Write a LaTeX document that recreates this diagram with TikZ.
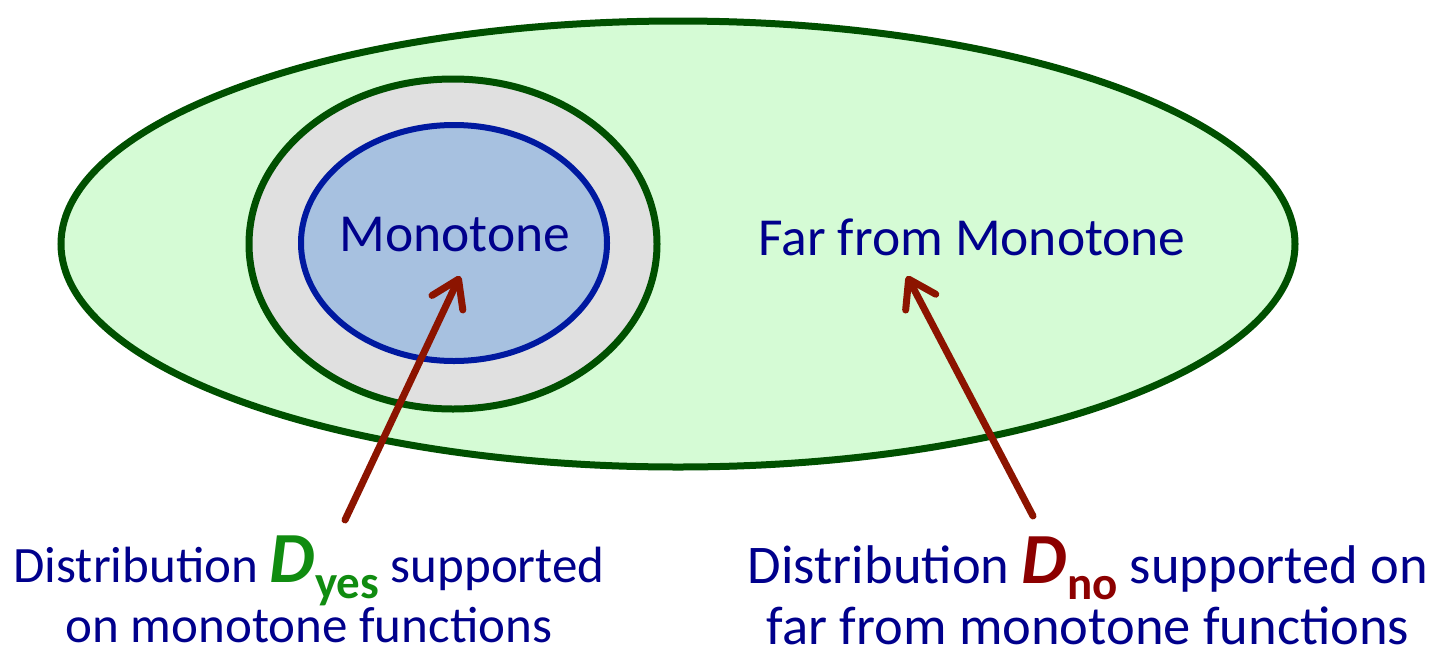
\documentclass[tikz,border=0pt]{standalone}
\usepackage{fontspec}
\setmainfont{Carlito}
\usetikzlibrary{arrows.meta}
\definecolor{txtblue}{RGB}{0,0,140}
\definecolor{outfill}{RGB}{213,251,213}
\definecolor{outline}{RGB}{0,80,0}
\definecolor{grayfill}{RGB}{224,224,224}
\definecolor{bluefill}{RGB}{167,193,224}
\definecolor{blueline}{RGB}{0,25,160}
\definecolor{arrowred}{RGB}{140,20,0}
\definecolor{dnored}{RGB}{140,0,0}
\definecolor{dyesgreen}{RGB}{16,140,16}
\newcommand{\bigD}[2]{{\color{#1}\fontsize{72}{72}\selectfont\bfseries\itshape D\raisebox{-16pt}{\fontsize{47}{47}\selectfont\upshape #2}}}
\begin{document}
\begin{tikzpicture}[x=1pt,y=-1pt,
  lbl/.style={text=txtblue,font=\fontsize{53.5}{60}\selectfont,inner sep=0pt},
  bot/.style={text=txtblue,font=\fontsize{51}{56}\selectfont,inner sep=0pt,anchor=base},
  botr/.style={bot,font=\fontsize{54.5}{60}\selectfont},
  ptr/.style={draw=arrowred,line width=7pt,line cap=round,line join=round,
    -{Straight Barb[length=26pt,width=34pt,line cap=round,line join=round]}}]
\useasboundingbox (0,0) rectangle (1437,654);
\draw[fill=outfill,draw=outline,line width=7pt] (678,244) ellipse [x radius=617, y radius=223];
\draw[fill=grayfill,draw=outline,line width=7pt] (453,244) ellipse [x radius=204, y radius=165];
\draw[fill=bluefill,draw=blueline,line width=6pt] (454,243) ellipse [x radius=153, y radius=118];
\node[lbl] (mono) at (455,235) {Monotone};
\node[lbl] (far) at (972,237) {Far from Monotone};
\coordinate (tipL) at (460,276);
\coordinate (tipR) at (907,276);
\node[bot] (l1) at (309,582) {Distribution \bigD{dyesgreen}{yes} supported};
\node[bot] (l2) at (309,642) {on monotone functions};
\node[botr] (r1) at (1088,583) {Distribution \bigD{dnored}{no} supported on};
\node[botr] (r2) at (1088,644) {far from monotone functions};
\draw[ptr] (345,520) -- (tipL);
\draw[ptr] (1033,516) -- (tipR);
\end{tikzpicture}
\end{document}
